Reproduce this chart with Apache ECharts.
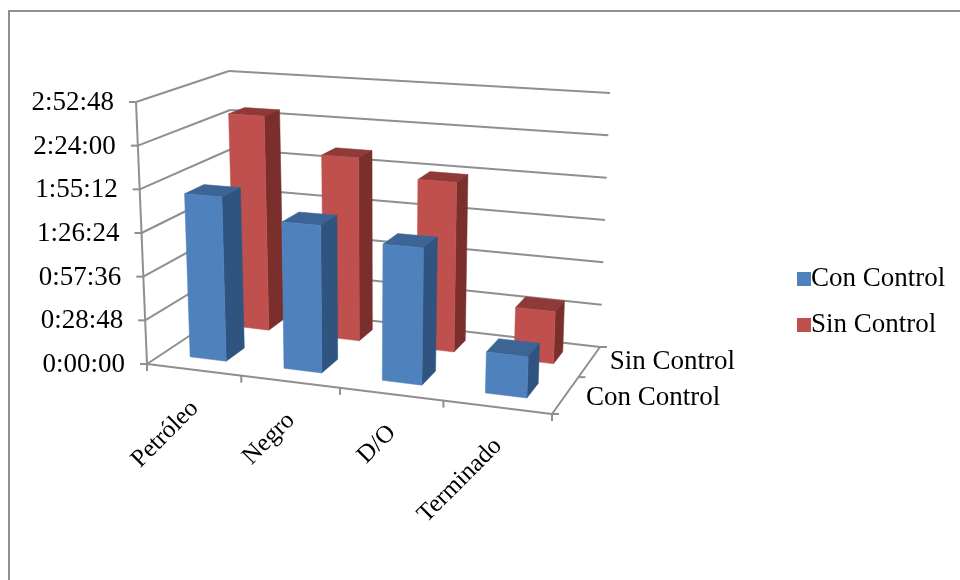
<!DOCTYPE html>
<html>
<head>
<meta charset="utf-8">
<style>html,body{margin:0;padding:0;background:#fff}#chart{width:960px;height:580px}</style>
<script src="https://cdn.jsdelivr.net/npm/echarts@6/dist/echarts.min.js"></script>
</head>
<body>
<div id="chart"></div>
<script>
const categories = ['Petróleo', 'Negro', 'D/O', 'Terminado'];
const seriesNames = ['Con Control', 'Sin Control'];
// tiempos en segundos
const conControl = [6540, 5750, 5240, 1540];
const sinControl = [9020, 7560, 6860, 2060];
const yTickValues = [0, 1728, 3456, 5184, 6912, 8640, 10368];
const yTickLabels = ['0:00:00', '0:28:48', '0:57:36', '1:26:24', '1:55:12', '2:24:00', '2:52:48'];

const W = 960, H = 580;
const FONT = '27px "Liberation Serif", serif';
const FONT_ROTATED = '25px "Liberation Serif", serif';
const LINE = '#8f8f8f';

// esquinas de la caja 3D en pantalla: [frente/fondo][izq/der][suelo/techo]
const box = {
    front: { left: [[147, 364], [136, 102]], right: [[552, 414], [563, 129]] },
    back: { left: [[236, 305], [229, 71]], right: [[600, 347], [610, 93]] }
};
const faces = [
    { front: '#4f81bd', side: '#2f5480', top: '#3c6596' },
    { front: '#c0504d', side: '#7a2f2d', top: '#8f3a38' }
];

function lerp(a, b, k) { return [a[0] + (b[0] - a[0]) * k, a[1] + (b[1] - a[1]) * k]; }
function warp(k, r) { return k / (k + (1 - k) * r); }

// pasa de la escala plana del grid a la caja en perspectiva
function project(api, x, depth, value) {
    const flat = api.coord([x, value]);
    const u = warp(flat[0] / W, 1.0986);
    const w = warp(depth, 0.818);
    const t = 1 - flat[1] / H;
    const fl = lerp(box.front.left[0], box.front.left[1], t);
    const fr = lerp(box.front.right[0], box.front.right[1], t);
    const bl = lerp(box.back.left[0], box.back.left[1], t);
    const br = lerp(box.back.right[0], box.back.right[1], t);
    return lerp(lerp(fl, fr, u), lerp(bl, br, u), w);
}

function poly(points, color) {
    return { type: 'polygon', shape: { points: points }, style: { fill: color, stroke: color, lineWidth: 0.5 } };
}
function line(a, b) {
    return { type: 'line', shape: { x1: a[0], y1: a[1], x2: b[0], y2: b[1] }, style: { stroke: LINE, lineWidth: 2 } };
}
function label(text, x, y, align, rotation) {
    return {
        type: 'text', x: x, y: y, rotation: rotation || 0,
        style: { text: text, fill: '#000', font: rotation ? FONT_ROTATED : FONT, align: align, verticalAlign: 'middle' }
    };
}

function renderTick(params, api) {
    const v = api.value(1);
    const a = project(api, 0, 0, v), b = project(api, 0, 1, v), c = project(api, 4, 1, v);
    return {
        type: 'group',
        children: [
            line(a, b), line(b, c), line([a[0] - 7, a[1]], a),
            label(yTickLabels[params.dataIndex], a[0] - 22, a[1] + 1, 'right')
        ]
    };
}

function renderFloor(params, api) {
    const children = [
        line(project(api, 0, 0, 0), project(api, 0, 0, 10368)),
        line(project(api, 0, 0, 0), project(api, 4, 0, 0)),
        line(project(api, 4, 0, 0), project(api, 4, 1, 0))
    ];
    for (let i = 0; i <= categories.length; i++) {
        const p = project(api, i, 0, 0);
        children.push(line(p, [p[0], p[1] + 7]));
    }
    [0, 0.5, 1].forEach(function (d) {
        const p = project(api, 4, d, 0);
        children.push(line(p, [p[0] + 7, p[1]]));
    });
    categories.forEach(function (name, i) {
        const p = project(api, i + 0.5, 0, 0);
        children.push(label(name, p[0] + 1, p[1] + 35, 'right', Math.PI / 4));
    });
    seriesNames.forEach(function (name, i) {
        const p = project(api, 4, 0.25 + i * 0.5, 0);
        children.push(label(name, p[0] + 20, p[1] + 3 - i * 2, 'left'));
    });
    return { type: 'group', children: children };
}

function makeBars(s) {
    const w0 = 0.15 + s * 0.5, w1 = 0.35 + s * 0.5;
    return function (params, api) {
        const c = api.value(0), v = api.value(1);
        const x0 = c + 0.3, x1 = c + 0.69;
        const f = faces[s];
        return {
            type: 'group',
            children: [
                poly([project(api, x0, w0, v), project(api, x1, w0, v), project(api, x1, w1, v), project(api, x0, w1, v)], f.top),
                poly([project(api, x1, w0, 0), project(api, x1, w1, 0), project(api, x1, w1, v), project(api, x1, w0, v)], f.side),
                poly([project(api, x0, w0, 0), project(api, x1, w0, 0), project(api, x1, w0, v), project(api, x0, w0, v)], f.front)
            ]
        };
    };
}

const chart = echarts.init(document.getElementById('chart'));
chart.setOption({
    animation: false,
    backgroundColor: '#fff',
    color: [faces[0].front, faces[1].front],
    grid: { left: 0, top: 0, width: W, height: H },
    xAxis: { type: 'value', min: 0, max: categories.length, show: false },
    yAxis: { type: 'value', min: 0, max: 10368, interval: 1728, show: false },
    legend: {
        data: seriesNames, orient: 'vertical', left: 792, top: 259,
        itemWidth: 14, itemHeight: 14, itemGap: 16, selectedMode: false,
        icon: 'rect',
        textStyle: { fontFamily: '"Liberation Serif", serif', fontSize: 27, color: '#000', lineHeight: 30, padding: [0, 0, 0, -5] }
    },
    graphic: [{
        type: 'rect', shape: { x: 9, y: 11, width: 1000, height: 620 },
        style: { fill: 'none', stroke: LINE, lineWidth: 2 }, silent: true
    }],
    series: [
        { type: 'custom', renderItem: renderTick, data: yTickValues.map(v => [0, v]), clip: false, silent: true, z: 1 },
        { type: 'custom', renderItem: renderFloor, data: [[0, 0]], clip: false, silent: true, z: 2 },
        { type: 'custom', name: seriesNames[1], renderItem: makeBars(1), data: sinControl.map((v, i) => [i, v]), itemStyle: { color: faces[1].front }, clip: false, z: 3 },
        { type: 'custom', name: seriesNames[0], renderItem: makeBars(0), data: conControl.map((v, i) => [i, v]), itemStyle: { color: faces[0].front }, clip: false, z: 4 }
    ]
});
window.addEventListener('resize', () => chart.resize());
</script>
</body>
</html>
